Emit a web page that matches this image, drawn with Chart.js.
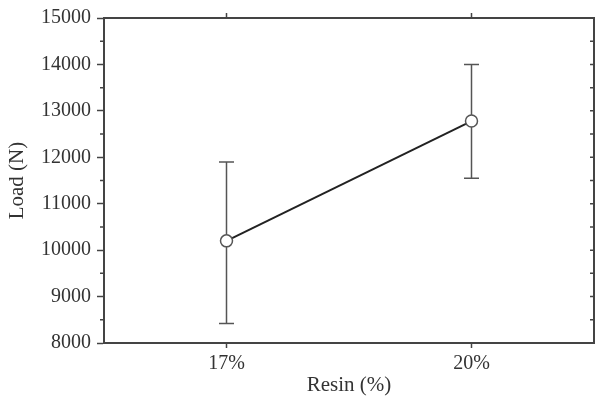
<!DOCTYPE html>
<html>
<head>
<meta charset="utf-8">
<script src="https://cdn.jsdelivr.net/npm/chart.js@4/dist/chart.umd.min.js"></script>
<style>
  html, body { margin: 0; padding: 0; background: #fff; }
  #wrap { width: 597px; height: 402px; }
</style>
</head>
<body>
<div id="wrap"><canvas id="loadChart" width="597" height="402"></canvas></div>
<script>
// Resin content vs. load, mean with min/max spread
const resinLevels = ['17%', '20%'];
const loadMean = [10200, 12780];
const loadHigh = [11900, 14000];
const loadLow = [8420, 11550];

const yTicks = [8000, 9000, 10000, 11000, 12000, 13000, 14000, 15000];

const axisColor = '#444';
const serif = "'Liberation Serif', 'Times New Roman', serif";

// Error bars, drawn under the markers
const errorBars = {
    id: 'errorBars',
    beforeDatasetsDraw(chart) {
        const ctx = chart.ctx;
        const x = chart.scales.x;
        const y = chart.scales.y;
        ctx.save();
        ctx.strokeStyle = '#555';
        ctx.lineWidth = 1.5;
        for (let i = 0; i < resinLevels.length; i++) {
            const px = x.getPixelForValue(i);
            const top = y.getPixelForValue(loadHigh[i]);
            const bot = y.getPixelForValue(loadLow[i]);
            ctx.beginPath();
            ctx.moveTo(px, top);
            ctx.lineTo(px, bot);
            ctx.moveTo(px - 7.5, top);
            ctx.lineTo(px + 7.5, top);
            ctx.moveTo(px - 7.5, bot);
            ctx.lineTo(px + 7.5, bot);
            ctx.stroke();
        }
        ctx.restore();
    }
};

// Frame: top/right lines, minor ticks, inner right ticks, top ticks
const frame = {
    id: 'frame',
    afterDraw(chart) {
        const ctx = chart.ctx;
        const a = chart.chartArea;
        const x = chart.scales.x;
        const y = chart.scales.y;
        ctx.save();
        ctx.strokeStyle = axisColor;
        ctx.lineWidth = 2;
        ctx.beginPath();
        ctx.moveTo(a.left, a.top);
        ctx.lineTo(a.right, a.top);
        ctx.lineTo(a.right, a.bottom);
        ctx.stroke();

        ctx.lineWidth = 1.5;
        ctx.beginPath();
        for (let v = yTicks[0]; v <= yTicks[yTicks.length - 1]; v += 500) {
            const py = y.getPixelForValue(v);
            if (v % 1000 !== 0) {
                ctx.moveTo(a.left - 4, py);
                ctx.lineTo(a.left, py);
            }
            if (v > yTicks[0] && v < yTicks[yTicks.length - 1]) {
                ctx.moveTo(a.right, py);
                ctx.lineTo(a.right - 4, py);
            }
        }
        for (let i = 0; i < resinLevels.length; i++) {
            const px = x.getPixelForValue(i);
            ctx.moveTo(px, a.top);
            ctx.lineTo(px, a.top - 5);
        }
        ctx.stroke();
        ctx.restore();
    }
};

new Chart(document.getElementById('loadChart').getContext('2d'), {
    type: 'line',
    data: {
        labels: resinLevels,
        datasets: [{
            data: loadMean,
            borderColor: '#222',
            borderWidth: 2,
            pointRadius: 6,
            pointHoverRadius: 6,
            pointBorderWidth: 1.5,
            pointBackgroundColor: '#fff',
            pointBorderColor: '#555',
            tension: 0
        }]
    },
    options: {
        responsive: false,
        animation: false,
        layout: {
            autoPadding: false,
            padding: { top: 18, right: 3, left: 0, bottom: 0 }
        },
        plugins: {
            legend: { display: false },
            tooltip: { enabled: false }
        },
        scales: {
            x: {
                type: 'category',
                offset: true,
                afterFit(scale) {
                    scale.height = 59;
                    scale.paddingLeft = 0;
                    scale.paddingRight = 0;
                },
                grid: {
                    drawOnChartArea: false,
                    offset: false,
                    tickLength: 5,
                    tickColor: axisColor,
                    tickWidth: 1.5
                },
                border: { color: axisColor, width: 2 },
                ticks: {
                    color: '#333',
                    padding: 4,
                    font: { family: serif, size: 20 }
                },
                title: {
                    display: true,
                    text: 'Resin (%)',
                    color: '#333',
                    padding: { top: 0, bottom: 4 },
                    font: { family: serif, size: 21 }
                }
            },
            y: {
                min: yTicks[0],
                max: yTicks[yTicks.length - 1],
                afterFit(scale) {
                    scale.width = 104;
                },
                afterBuildTicks(scale) {
                    scale.ticks = yTicks.map(v => ({ value: v }));
                },
                grid: {
                    drawOnChartArea: false,
                    tickLength: 7,
                    tickColor: axisColor,
                    tickWidth: 1.5
                },
                border: { color: axisColor, width: 2 },
                ticks: {
                    color: '#333',
                    padding: 6,
                    font: { family: serif, size: 20 },
                    callback: v => String(v)
                },
                title: {
                    display: true,
                    text: 'Load (N)',
                    color: '#333',
                    padding: { top: 5, bottom: 0 },
                    font: { family: serif, size: 21 }
                }
            }
        }
    },
    plugins: [errorBars, frame]
});
</script>
</body>
</html>
